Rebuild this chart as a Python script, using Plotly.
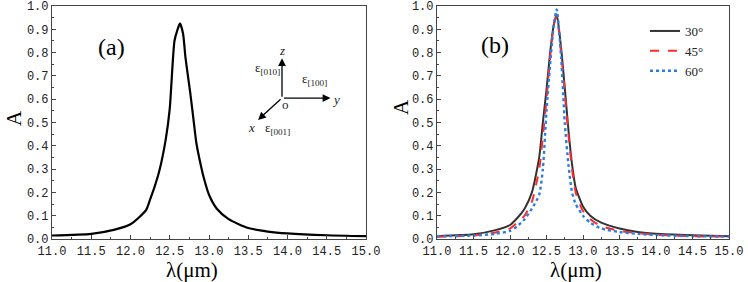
import plotly.graph_objects as go

# Panel (a) data
xa = [11.0, 11.5, 11.8, 12.0, 12.1, 12.2, 12.25, 12.3, 12.37, 12.45, 12.5, 12.56, 12.6, 12.63,
      12.67, 12.7, 12.76, 12.8, 12.84, 12.9, 12.93, 13.0, 13.1, 13.25, 13.5, 13.75, 14.0, 14.5, 15.0]
ya = [0.015, 0.022, 0.04, 0.063, 0.09, 0.125, 0.17, 0.217, 0.296, 0.43, 0.56, 0.85, 0.9, 0.925,
      0.88, 0.78, 0.63, 0.52, 0.41, 0.31, 0.267, 0.19, 0.13, 0.085, 0.047, 0.032, 0.024, 0.016, 0.012]

# Panel (b) data
xb = [11.0, 11.5, 11.8, 12.0, 12.1, 12.2, 12.3, 12.4, 12.45, 12.5, 12.55, 12.6, 12.64,
      12.7, 12.75, 12.8, 12.85, 12.9, 13.0, 13.1, 13.25, 13.5, 13.75, 14.0, 14.5, 15.0]
y30 = [0.012, 0.02, 0.038, 0.06, 0.09, 0.13, 0.2, 0.35, 0.5, 0.64, 0.8, 0.92, 0.965,
       0.82, 0.65, 0.47, 0.32, 0.22, 0.14, 0.1, 0.07, 0.045, 0.03, 0.022, 0.016, 0.012]
y45 = [0.01, 0.015, 0.028, 0.045, 0.07, 0.1, 0.16, 0.3, 0.44, 0.6, 0.78, 0.92, 0.955,
       0.8, 0.63, 0.45, 0.3, 0.2, 0.12, 0.085, 0.055, 0.035, 0.025, 0.018, 0.012, 0.01]
y60 = [0.012, 0.015, 0.022, 0.035, 0.055, 0.085, 0.13, 0.19, 0.3, 0.55, 0.75, 0.92, 0.985,
       0.78, 0.5, 0.32, 0.2, 0.15, 0.1, 0.07, 0.045, 0.03, 0.022, 0.017, 0.012, 0.01]
names_b = ["30°", "45°", "60°"]

tick_x = [11.0, 11.5, 12.0, 12.5, 13.0, 13.5, 14.0, 14.5, 15.0]
tick_y = [0.0, 0.1, 0.2, 0.3, 0.4, 0.5, 0.6, 0.7, 0.8, 0.9, 1.0]

fig = go.Figure()
fig.add_trace(go.Scatter(x=xa, y=ya, mode="lines", line=dict(color="black", width=2.2, shape="spline", smoothing=0.6),
                         showlegend=False, xaxis="x", yaxis="y"))
fig.add_trace(go.Scatter(x=xb, y=y30, mode="lines", name=names_b[0],
                         line=dict(color="#333333", width=2, shape="spline", smoothing=0.6), xaxis="x2", yaxis="y2"))
fig.add_trace(go.Scatter(x=xb, y=y45, mode="lines", name=names_b[1],
                         line=dict(color="#ff2a2a", width=2, dash="dash", shape="spline", smoothing=0.6),
                         xaxis="x2", yaxis="y2"))
fig.add_trace(go.Scatter(x=xb, y=y60, mode="lines", name=names_b[2],
                         line=dict(color="#2a7de1", width=2.4, dash="dot", shape="spline", smoothing=0.6),
                         xaxis="x2", yaxis="y2"))

W, H = 748, 282
tickfont = dict(family="Liberation Mono", size=12, color="#222")
serif = "Liberation Serif"

def px(s):
    return s / W

def py(s):
    return 1 - s / H

def xax(domain, anchor):
    return dict(domain=domain, anchor=anchor, range=[11, 15], tickvals=tick_x, automargin=False,
                tickformat=".1f", ticks="inside", ticklen=4, showline=True, mirror=True,
                linecolor="#444", linewidth=1.2, tickcolor="#444", showgrid=False, zeroline=False,
                tickfont=tickfont, minor=dict(ticks="inside", ticklen=2, dtick=0.25, tickcolor="#444"))

def yax(domain, anchor):
    return dict(domain=domain, anchor=anchor, range=[0, 1], tickvals=tick_y, automargin=False,
                tickformat=".1f", ticks="inside", ticklen=4, showline=True, mirror=True,
                linecolor="#444", linewidth=1.2, tickcolor="#444", showgrid=False, zeroline=False,
                tickfont=tickfont, minor=dict(ticks="inside", ticklen=2, dtick=0.05, tickcolor="#444"))

ydom = [py(239), py(6)]
fig.update_layout(
    width=W, height=H, margin=dict(l=0, r=0, t=0, b=0, autoexpand=False),
    paper_bgcolor="white", plot_bgcolor="white",
    xaxis=xax([px(52), px(366)], "y"),
    yaxis=yax(ydom, "x"),
    xaxis2=xax([px(437), px(729)], "y2"),
    yaxis2=yax(ydom, "x2"),
    legend=dict(x=px(645), y=py(16), xanchor="left", yanchor="top",
                bgcolor="rgba(0,0,0,0)", font=dict(family=serif, size=13, color="#222"),
                itemwidth=30, tracegroupgap=0),
)

ttl = dict(family=serif, size=21, color="black")
ann = [
    dict(x=0.14, y=0.89, xref="x domain", yref="y domain", text="(a)", showarrow=False,
         font=dict(family=serif, size=24, color="black")),
    dict(x=0.144, y=0.898, xref="x2 domain", yref="y2 domain", text="(b)", showarrow=False,
         font=dict(family=serif, size=24, color="black")),
    # axis titles
    dict(x=12.78, y=py(270), xref="x", yref="paper", text="λ(μm)", showarrow=False, font=ttl,
         yanchor="middle"),
    dict(x=12.90, y=py(270), xref="x2", yref="paper", text="λ(μm)", showarrow=False, font=ttl,
         yanchor="middle"),
    dict(x=px(14), y=py(118), xref="paper", yref="paper", text="A", showarrow=False, font=ttl,
         textangle=-90, xanchor="center", yanchor="middle"),
    dict(x=px(401), y=py(107), xref="paper", yref="paper", text="A", showarrow=False, font=ttl,
         textangle=-90, xanchor="center", yanchor="middle"),
]
# coordinate diagram (panel a)
ox, oy = 13.93, 0.605
arrow = dict(showarrow=True, arrowhead=2, arrowsize=1.2, arrowwidth=1.3, arrowcolor="black",
             xref="x", yref="y", axref="pixel", ayref="pixel", text="")
ann.append(dict(arrow, x=ox, y=0.776, ax=0, ay=40))
ann.append(dict(arrow, x=14.547, y=oy, ax=-48, ay=0))
ann.append(dict(arrow, x=13.625, y=0.511, ax=24, ay=-22))
lab = dict(showarrow=False, xref="x", yref="y", font=dict(family=serif, size=13, color="#222"))
ann += [
    dict(lab, x=13.93, y=0.81, text="<i>z</i>"),
    dict(lab, x=13.75, y=0.73, text="ε<sub>[010]</sub>"),
    dict(lab, x=14.35, y=0.683, text="ε<sub>[100]</sub>"),
    dict(lab, x=14.62, y=0.598, text="<i>y</i>"),
    dict(lab, x=13.975, y=0.576, text="o"),
    dict(lab, x=13.535, y=0.478, text="<i>x</i>"),
    dict(lab, x=13.875, y=0.473, text="ε<sub>[001]</sub>"),
]
fig.update_layout(annotations=ann)
fig.write_html("out.html", config={"displayModeBar": False},
               post_script="document.body.style.margin='0px';")
